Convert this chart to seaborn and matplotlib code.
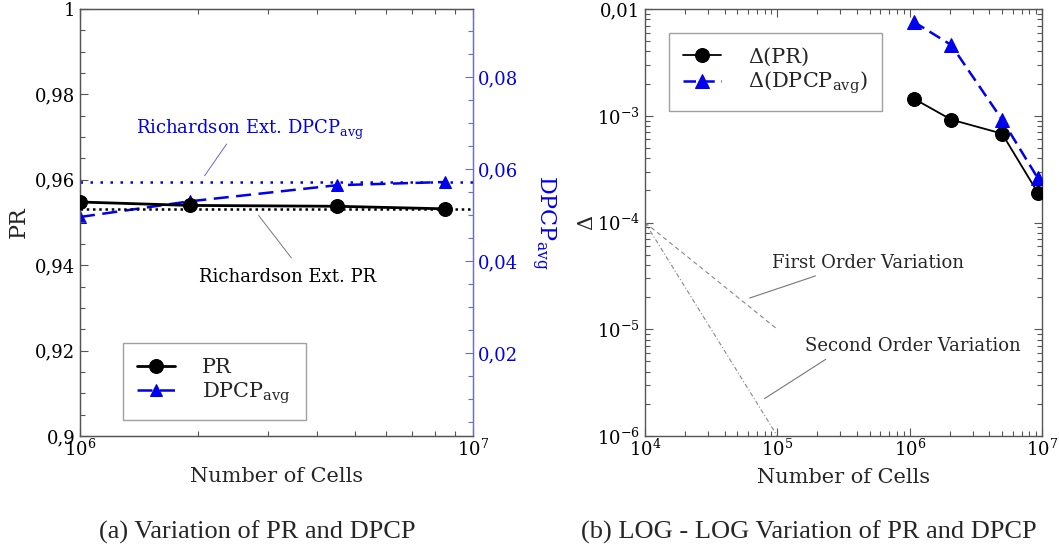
import numpy as np
import pandas as pd
import matplotlib
matplotlib.use("Agg")
import matplotlib.pyplot as plt
import matplotlib.ticker as mticker
import seaborn as sns

# ---------------- data ----------------
cells_a = [1.0e6, 1.9e6, 4.5e6, 8.5e6]
pr_vals = [0.9548, 0.9540, 0.9538, 0.9532]
dpcp_vals = [0.0496, 0.0530, 0.0565, 0.0572]
rich_pr = 0.9532
rich_dpcp = 0.0572

cells_b = [1.07e6, 2.06e6, 4.99e6, 9.3e6]
delta_pr = [1.45e-3, 9.2e-4, 6.8e-4, 1.9e-4]
delta_dpcp = [7.6e-3, 4.6e-3, 9.2e-4, 2.6e-4]

order_x = [1e4, 1e5]
first_order = [1e-4, 1e-5]
second_order = [1e-4, 1e-6]

# ---------------- style ----------------
sns.set_style("ticks")
plt.rcParams['font.family'] = ['DejaVu Serif']
plt.rcParams['mathtext.fontset'] = 'dejavuserif'

BLUE = '#0000ee'
SPINE = '#555555'
RSPINE = '#7070c0'

fig = plt.figure(figsize=(10.59, 5.48), dpi=100)
ax1 = fig.add_axes([80/1059, 1-436/548, 393/1059, 427/548])
ax2 = ax1.twinx()
ax3 = fig.add_axes([645/1059, 1-436/548, 397/1059, 427/548])

def comma(v, pos=None):
    s = ('%g' % round(v, 6))
    return s.replace('.', ',')

def pow10(v, pos=None):
    e = int(round(np.log10(v)))
    return r'$10^{%d}$' % e

# ---------------- panel (a) ----------------
ax1.set_xscale('log')
dfa = pd.DataFrame({'cells': cells_a, 'pr': pr_vals, 'dpcp': dpcp_vals})
sns.lineplot(data=dfa, x='cells', y='pr', ax=ax1, color='black', lw=2.0,
             marker='o', markersize=10, markeredgecolor='black', label='PR',
             legend=False, clip_on=True, zorder=4)
ax1.axhline(rich_pr, color='black', ls=(0, (1, 1.5)), lw=1.8, zorder=3)
sns.lineplot(data=dfa, x='cells', y='dpcp', ax=ax2, color=BLUE, lw=1.8,
             ls=(0, (6, 3)), marker='^', markersize=9, markeredgecolor=BLUE,
             label=r'DPCP$_{\mathrm{avg}}$', legend=False, zorder=4)
ax2.axhline(rich_dpcp, color=BLUE, ls=(0, (1, 3)), lw=1.8, zorder=3)

ax1.set_xlim(1e6, 1e7)
ax1.set_ylim(0.9, 1.0)
ax2.set_ylim(0.0020, 0.0948)
ax1.yaxis.set_major_locator(mticker.MultipleLocator(0.02))
ax1.yaxis.set_minor_locator(mticker.MultipleLocator(0.005))
ax1.yaxis.set_major_formatter(mticker.FuncFormatter(comma))
ax2.yaxis.set_major_locator(mticker.FixedLocator([0.02, 0.04, 0.06, 0.08]))
ax2.yaxis.set_minor_locator(mticker.MultipleLocator(0.005))
ax2.yaxis.set_major_formatter(mticker.FuncFormatter(comma))
ax1.xaxis.set_major_locator(mticker.FixedLocator([1e6, 1e7]))
ax1.xaxis.set_major_formatter(mticker.FuncFormatter(pow10))
ax1.xaxis.set_minor_locator(mticker.LogLocator(base=10, subs=np.arange(2, 10)))
ax1.xaxis.set_minor_formatter(mticker.NullFormatter())

ax1.set_xlabel('Number of Cells', fontsize=15, labelpad=5)
ax1.set_ylabel('PR', fontsize=16, labelpad=4)
ax2.set_ylabel(r'DPCP$_{\mathrm{avg}}$', fontsize=16, color=BLUE, rotation=270,
               labelpad=28)

ax1.tick_params(axis='both', which='both', direction='in', top=True, right=False,
                colors=SPINE, labelcolor='black', labelsize=13)
ax1.tick_params(which='major', length=6, width=0.8)
ax1.tick_params(which='minor', length=3.5, width=0.8)
ax1.tick_params(axis='x', pad=2)
ax2.tick_params(axis='y', which='both', direction='in', colors=RSPINE,
                labelcolor=BLUE, labelsize=13)
ax2.tick_params(which='major', length=6, width=0.8)
ax2.tick_params(which='minor', length=3.5, width=0.8)
for sp in ['left', 'bottom', 'top']:
    ax1.spines[sp].set_color(SPINE)
    ax2.spines[sp].set_color(SPINE)
ax1.spines['right'].set_color(RSPINE)
ax2.spines['right'].set_color(RSPINE)
for sp in ax1.spines.values():
    sp.set_linewidth(1.0)
ax1.set_zorder(ax2.get_zorder() + 1)
ax1.patch.set_visible(False)

ax1.text(0.433, 0.717, r'Richardson Ext. DPCP$_{\mathrm{avg}}$', transform=ax1.transAxes,
         ha='center', va='center', fontsize=13, color=BLUE)
ax1.annotate('', xy=(0.313, 0.604), xytext=(0.377, 0.689), xycoords='axes fraction',
             textcoords='axes fraction',
             arrowprops=dict(arrowstyle='-', color='#6a6ad0', lw=0.7))
ax1.text(0.529, 0.372, 'Richardson Ext. PR', transform=ax1.transAxes,
         ha='center', va='center', fontsize=13, color='black')
ax1.annotate('', xy=(0.542, 0.412), xytext=(0.450, 0.522), xycoords='axes fraction',
             textcoords='axes fraction',
             arrowprops=dict(arrowstyle='-', color='#777777', lw=0.7))

h1, l1 = ax1.get_legend_handles_labels()
h2, l2 = ax2.get_legend_handles_labels()
leg = ax1.legend(h1 + h2, l1 + l2, loc='lower left', bbox_to_anchor=(0.109, 0.037),
                 borderaxespad=0, fontsize=15, frameon=True, fancybox=False,
                 edgecolor='#888888', handlelength=1.8, handletextpad=1.3,
                 borderpad=0.7, labelspacing=0.15)
leg.get_frame().set_linewidth(1.0)

# ---------------- panel (b) ----------------
ax3.set_xscale('log')
ax3.set_yscale('log')
dfb = pd.DataFrame({'cells': cells_b, 'dpr': delta_pr, 'ddpcp': delta_dpcp})
dfo = pd.DataFrame({'x': order_x, 'first': first_order, 'second': second_order})
sns.lineplot(data=dfo, x='x', y='first', ax=ax3, color='#888888', lw=0.8,
             ls=(0, (4, 3)), legend=False)
sns.lineplot(data=dfo, x='x', y='second', ax=ax3, color='#888888', lw=0.8,
             ls=(0, (4, 2, 1, 2)), legend=False)
sns.lineplot(data=dfb, x='cells', y='dpr', ax=ax3, color='black', lw=1.3,
             marker='o', markersize=10, markeredgecolor='black', label=r'Δ(PR)',
             legend=False, zorder=4)
sns.lineplot(data=dfb, x='cells', y='ddpcp', ax=ax3, color=BLUE, lw=1.8,
             ls=(0, (5, 2.5)), marker='^', markersize=10, markeredgecolor=BLUE,
             label=r'Δ(DPCP$_{\mathrm{avg}}$)', legend=False, zorder=4)

ax3.set_xlim(1e4, 1e7)
ax3.set_ylim(1e-6, 1e-2)
ax3.xaxis.set_major_locator(mticker.LogLocator(base=10, numticks=10))
ax3.xaxis.set_major_formatter(mticker.FuncFormatter(pow10))
ax3.xaxis.set_minor_locator(mticker.LogLocator(base=10, subs=np.arange(2, 10), numticks=20))
ax3.xaxis.set_minor_formatter(mticker.NullFormatter())
ax3.yaxis.set_major_locator(mticker.LogLocator(base=10, numticks=10))

def ylog_fmt(v, pos=None):
    e = int(round(np.log10(v)))
    if e == -2:
        return '0,01'
    return r'$10^{%d}$' % e

ax3.yaxis.set_major_formatter(mticker.FuncFormatter(ylog_fmt))
ax3.yaxis.set_minor_locator(mticker.LogLocator(base=10, subs=np.arange(2, 10), numticks=20))
ax3.yaxis.set_minor_formatter(mticker.NullFormatter())
ax3.tick_params(axis='both', which='both', direction='in', top=True, right=True,
                colors=SPINE, labelcolor='black', labelsize=13)
ax3.tick_params(which='major', length=6, width=0.8)
ax3.tick_params(which='minor', length=3.5, width=0.8)
ax3.tick_params(axis='x', pad=2)
for sp in ax3.spines.values():
    sp.set_color(SPINE)
    sp.set_linewidth(1.0)
ax3.set_xlabel('Number of Cells', fontsize=15, labelpad=6)
ax3.set_ylabel('Δ', fontsize=15, labelpad=1)

ax3.text(0.562, 0.405, 'First Order Variation', transform=ax3.transAxes,
         ha='center', va='center', fontsize=13)
ax3.annotate('', xy=(0.257, 0.321), xytext=(0.436, 0.377), xycoords='axes fraction',
             textcoords='axes fraction',
             arrowprops=dict(arrowstyle='-', color='#777777', lw=0.8))
ax3.text(0.675, 0.211, 'Second Order Variation', transform=ax3.transAxes,
         ha='center', va='center', fontsize=13)
ax3.annotate('', xy=(0.295, 0.084), xytext=(0.461, 0.183), xycoords='axes fraction',
             textcoords='axes fraction',
             arrowprops=dict(arrowstyle='-', color='#777777', lw=0.8))

h3, l3 = ax3.get_legend_handles_labels()
leg3 = ax3.legend(h3, l3, loc='upper left', bbox_to_anchor=(0.060, 0.944),
                  borderaxespad=0, fontsize=15, frameon=True, fancybox=False,
                  edgecolor='#888888', handlelength=1.8, handletextpad=1.3,
                  borderpad=0.7, labelspacing=0.15)
leg3.get_frame().set_linewidth(1.0)

# ---------------- captions ----------------
fig.text(257/1059, 1-532/548, '(a) Variation of PR and DPCP', ha='center', va='center',
         fontsize=19, family=['Liberation Serif', 'DejaVu Serif'])
fig.text(809/1059, 1-532/548, '(b) LOG - LOG Variation of PR and DPCP', ha='center',
         va='center', fontsize=19, family=['Liberation Serif', 'DejaVu Serif'])

fig.savefig('out.png', dpi=100)
